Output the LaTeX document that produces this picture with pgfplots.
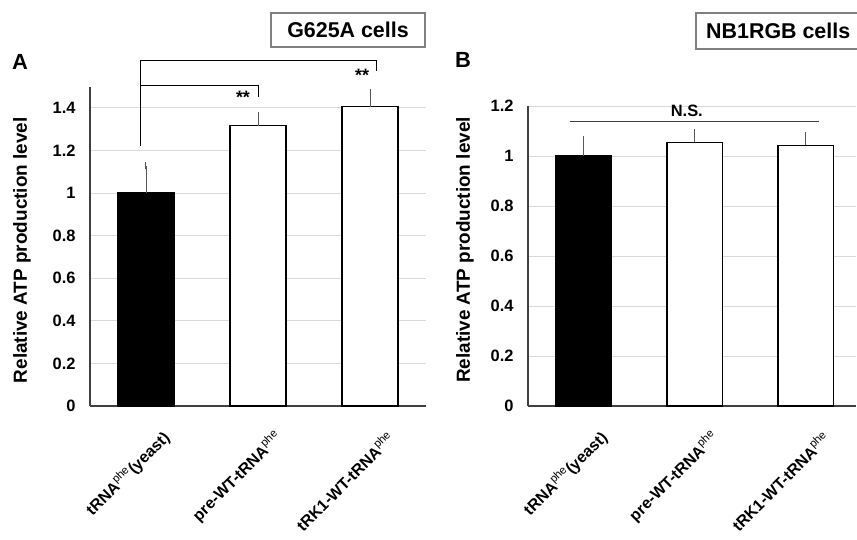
\documentclass[border=0pt]{standalone}
\usepackage{fontspec}
\setmainfont{Liberation Sans}
\usepackage{pgfplots}
\pgfplotsset{compat=1.18}
\definecolor{gridc}{HTML}{D9D9D9}
\definecolor{axc}{HTML}{404040}
\definecolor{errc}{HTML}{595959}
\definecolor{boxc}{HTML}{808080}
\pgfplotsset{
  myax/.style={
    scale only axis, clip=false,
    axis x line*=bottom, axis y line*=left,
    axis line style={axc, line width=1.6bp, -},
    ymajorgrids, grid style={gridc, line width=1bp},
    tick style={draw=none},
    xtick={0,1,2},
    xticklabels={tRNA\textsuperscript{\mdseries phe}(yeast), pre-WT-tRNA\textsuperscript{\mdseries phe}, tRK1-WT-tRNA\textsuperscript{\mdseries phe}},
    xmin=-0.5, ymin=0,
    /pgf/number format/assume math mode=true,
    yticklabel style={font=\fontsize{16.5}{19}\selectfont\bfseries, xshift=-11bp},
    xticklabel style={rotate=45, anchor=east, font=\fontsize{16}{19}\selectfont\bfseries, xshift=-2bp, yshift=-35bp},
    ylabel style={at={(rel axis cs:0,0.5)}, anchor=center, font=\fontsize{19}{22}\selectfont\bfseries},
    bar width=0.5,
  },
  mybar/.style={ybar, bar shift=0pt, draw=black, line width=1.4bp,
    error bars/y dir=plus, error bars/y explicit,
    error bars/error bar style={errc, line width=1bp},
    error bars/error mark options={errc, line width=1bp, mark size=3.5bp}},
}
\begin{document}
\begin{tikzpicture}
\useasboundingbox (0bp,0bp) rectangle (857bp,-540bp);
% Panel A
\begin{axis}[myax, at={(90bp,-406bp)}, anchor=south west, width=336bp, height=319.5bp,
  xmax=2.5, ymax=1.5, ytick={0,0.2,0.4,0.6,0.8,1,1.2,1.4},
  ylabel={Relative ATP production level}, ylabel style={yshift=68bp, xshift=-4bp}]
\addplot[mybar, fill=black] coordinates {(0,1.0) +- (0,0.127)};
\addplot[mybar, fill=white] coordinates {(1,1.316) +- (0,0.047) (2,1.405) +- (0,0.065)};
\draw[black, line width=1bp] (axis cs:-0.045,1.22) -- (axis cs:-0.045,1.62) -- (axis cs:2.06,1.62) -- (axis cs:2.06,1.574);
\draw[black, line width=1bp] (axis cs:-0.045,1.507) -- (axis cs:1.0,1.507) -- (axis cs:1.0,1.452);
\node[font=\fontsize{18}{21}\selectfont\bfseries] at (axis cs:0.866,1.45) {**};
\node[font=\fontsize{18}{21}\selectfont\bfseries] at (axis cs:1.93,1.553) {**};
\end{axis}
% Panel B
\begin{axis}[myax, at={(528bp,-406bp)}, anchor=south west, width=327.6bp, height=300bp,
  xmax=2.45, ymax=1.2, ytick={0,0.2,0.4,0.6,0.8,1,1.2},
  ylabel={Relative ATP production level}, ylabel style={yshift=63bp, xshift=6bp}]
\addplot[mybar, fill=black] coordinates {(0,1.0) +- (0,0.068)};
\addplot[mybar, fill=white] coordinates {(1,1.055) +- (0,0.04) (2,1.043) +- (0,0.038)};
\draw[axc, line width=1bp] (axis cs:-0.12,1.139) -- (axis cs:2.12,1.139);
\node[font=\fontsize{16.5}{19}\selectfont\bfseries] at (axis cs:0.93,1.18) {N.S.};
\end{axis}
% titles
\draw[boxc, line width=1.5bp] (271bp,-13bp) rectangle (425bp,-47bp);
\node[font=\fontsize{21.5}{25}\selectfont\bfseries] at (348bp,-30bp) {G625A cells};
\draw[boxc, line width=1.5bp] (696bp,-13bp) rectangle (870bp,-49bp);
\node[font=\fontsize{21.5}{25}\selectfont\bfseries, anchor=west, inner sep=0pt] at (706bp,-31bp) {NB1RGB cells};
\node[font=\fontsize{22}{26}\selectfont\bfseries] at (20bp,-62bp) {A};
\node[font=\fontsize{22}{26}\selectfont\bfseries] at (463bp,-60bp) {B};
\end{tikzpicture}
\end{document}
